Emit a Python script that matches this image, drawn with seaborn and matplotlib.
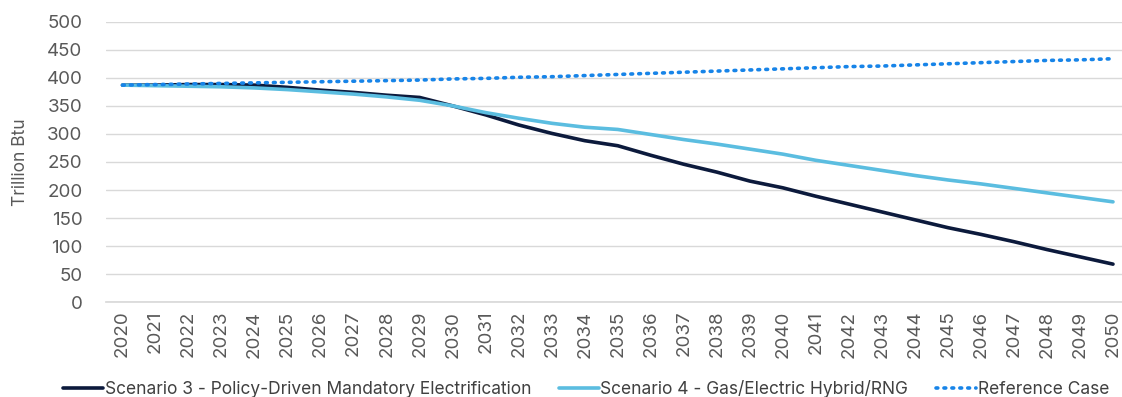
import matplotlib
matplotlib.use("Agg")
import matplotlib.pyplot as plt
import seaborn as sns
import pandas as pd

years = [str(y) for y in range(2020, 2051)]
scenario3 = [387, 387, 388, 388, 387, 383, 378, 374, 369, 365,
             350, 334, 316, 301, 288, 279, 262, 246, 232, 216,
             204, 189, 175, 161, 147, 133, 121, 108, 94, 81, 68]
scenario4 = [387, 386, 385, 384, 382, 379, 375, 371, 366, 360,
             350, 338, 328, 319, 312, 308, 299, 290, 282, 273,
             264, 253, 244, 235, 226, 218, 211, 203, 195, 187, 179]
reference = [387, 388, 389, 390, 391, 392, 393, 394, 395, 396,
             398, 399, 401, 402, 404, 406, 408, 410, 412, 414,
             416, 418, 420, 421, 423, 425, 427, 429, 431, 432, 434]
series_names = ["Scenario 3 - Policy-Driven Mandatory Electrification",
                "Scenario 4 - Gas/Electric Hybrid/RNG",
                "Reference Case"]
y_ticks = [0, 50, 100, 150, 200, 250, 300, 350, 400, 450, 500]
y_label = "Trillion Btu"

df = pd.DataFrame({
    "Year": years * 3,
    "Value": scenario3 + scenario4 + reference,
    "Series": [series_names[0]] * len(years) + [series_names[1]] * len(years) + [series_names[2]] * len(years),
})

sns.set_theme(style="white")
plt.rcParams["font.family"] = ["Inter", "DejaVu Sans"]

fig = plt.figure(figsize=(11.22, 3.97), dpi=100)
ax = fig.add_axes([106 / 1122, 1 - 302.3 / 397, (1129.5 - 106) / 1122, (302.3 - 21.7) / 397])

palette = {series_names[0]: "#0c1a3c", series_names[1]: "#5bbde0", series_names[2]: "#1784e8"}
dashes = {series_names[0]: "", series_names[1]: "", series_names[2]: (0.5, 1.7)}
sns.lineplot(data=df, x="Year", y="Value", hue="Series", style="Series",
             palette=palette, dashes=dashes, linewidth=2.6, ax=ax, sort=False)
for line in ax.get_lines():
    line.set_dash_capstyle("round")

ax.set_xlim(-0.5, len(years) - 0.5)
ax.set_ylim(0, 500)
ax.set_yticks(y_ticks)
ax.yaxis.grid(True, color="#d9d9d9", linewidth=1.0)
ax.set_axisbelow(True)
for s in ["top", "right", "left"]:
    ax.spines[s].set_visible(False)
ax.spines["bottom"].set_color("#d9d9d9")
ax.tick_params(axis="x", rotation=90, labelsize=13.5, colors="#595959", length=0, pad=6)
ax.tick_params(axis="y", labelsize=13.5, colors="#595959", length=0, pad=17)
ax.set_xlabel("")
ax.set_ylabel(y_label, fontsize=12.5, color="#595959", labelpad=10)
ax.yaxis.set_label_coords(-0.075, 0.5)

handles, labels = ax.get_legend_handles_labels()
ax.legend(handles, labels, loc="center", bbox_to_anchor=(586 / 1122, 1 - 389 / 397),
          bbox_transform=fig.transFigure, ncol=3, frameon=False, fontsize=12.5,
          handlelength=2.3, handletextpad=0.1, columnspacing=1.6,
          labelcolor="#404040")

fig.savefig("out.png", dpi=100)
